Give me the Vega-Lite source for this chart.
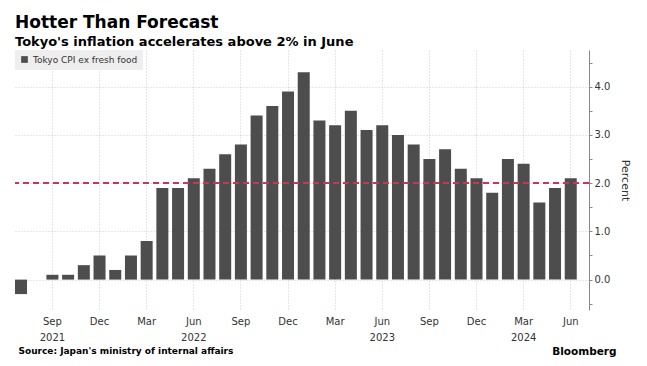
{
  "$schema": "https://vega.github.io/schema/vega-lite/v6.json",
  "width": 574,
  "height": 260,
  "autosize": {"type": "none"},
  "padding": {"left": 15, "top": 50, "right": 58, "bottom": 56},
  "background": "white",
  "title": {
    "text": "Hotter Than Forecast",
    "subtitle": "Tokyo's inflation accelerates above 2% in June",
    "anchor": "start",
    "frame": "group",
    "font": "DejaVu Sans",
    "fontSize": 17,
    "fontWeight": "bold",
    "color": "#000000",
    "subtitleFont": "DejaVu Sans",
    "subtitleFontSize": 13,
    "subtitleFontWeight": "bold",
    "subtitleColor": "#000000",
    "subtitlePadding": 4,
    "offset": 0
  },
  "data": {
    "values": [
      {"month": "2021-07", "value": -0.3},
      {"month": "2021-08", "value": 0.0},
      {"month": "2021-09", "value": 0.1},
      {"month": "2021-10", "value": 0.1},
      {"month": "2021-11", "value": 0.3},
      {"month": "2021-12", "value": 0.5},
      {"month": "2022-01", "value": 0.2},
      {"month": "2022-02", "value": 0.5},
      {"month": "2022-03", "value": 0.8},
      {"month": "2022-04", "value": 1.9},
      {"month": "2022-05", "value": 1.9},
      {"month": "2022-06", "value": 2.1},
      {"month": "2022-07", "value": 2.3},
      {"month": "2022-08", "value": 2.6},
      {"month": "2022-09", "value": 2.8},
      {"month": "2022-10", "value": 3.4},
      {"month": "2022-11", "value": 3.6},
      {"month": "2022-12", "value": 3.9},
      {"month": "2023-01", "value": 4.3},
      {"month": "2023-02", "value": 3.3},
      {"month": "2023-03", "value": 3.2},
      {"month": "2023-04", "value": 3.5},
      {"month": "2023-05", "value": 3.1},
      {"month": "2023-06", "value": 3.2},
      {"month": "2023-07", "value": 3.0},
      {"month": "2023-08", "value": 2.8},
      {"month": "2023-09", "value": 2.5},
      {"month": "2023-10", "value": 2.7},
      {"month": "2023-11", "value": 2.3},
      {"month": "2023-12", "value": 2.1},
      {"month": "2024-01", "value": 1.8},
      {"month": "2024-02", "value": 2.5},
      {"month": "2024-03", "value": 2.4},
      {"month": "2024-04", "value": 1.6},
      {"month": "2024-05", "value": 1.9},
      {"month": "2024-06", "value": 2.1}
    ]
  },
  "layer": [
    {
      "mark": {"type": "bar"},
      "encoding": {
        "x": {
          "field": "month",
          "type": "ordinal",
          "scale": {"paddingInner": 0.236, "paddingOuter": 0.39, "align": 0},
          "axis": {
            "values": ["2021-09", "2021-12", "2022-03", "2022-06", "2022-09", "2022-12", "2023-03", "2023-06", "2023-09", "2023-12", "2024-03", "2024-06"],
            "labelExpr": "[slice(datum.value,5)=='09' ? 'Sep' : slice(datum.value,5)=='12' ? 'Dec' : slice(datum.value,5)=='03' ? 'Mar' : 'Jun', indexof(['2021-09','2022-06','2023-06','2024-03'], datum.value) >= 0 ? slice(datum.value,0,4) : '']",
            "domain": false,
            "ticks": false,
            "grid": true,
            "gridColor": "#cccccc",
            "gridDash": [1, 2],
            "labelFont": "DejaVu Sans",
            "labelFontSize": 10,
            "labelColor": "#333333",
            "labelPadding": 6,
            "labelLineHeight": 16,
            "labelAngle": 0,
            "title": "Source: Japan's ministry of internal affairs",
            "titleFont": "DejaVu Sans",
            "titleFontSize": 9,
            "titleFontWeight": "bold",
            "titleColor": "#000000",
            "titleAnchor": "start",
            "titleAlign": "left",
            "titleBaseline": "alphabetic",
            "titleX": 3,
            "titleY": 43
          }
        },
        "y": {
          "field": "value",
          "type": "quantitative",
          "scale": {"domain": [-0.63, 4.76], "nice": false, "zero": false},
          "axis": {
            "orient": "right",
            "values": [-0.5, 0, 0.5, 1, 1.5, 2, 2.5, 3, 3.5, 4, 4.5],
            "tickCount": 30,
            "labelExpr": "abs(datum.value - round(datum.value)) < 0.01 ? format(datum.value, '.1f') : ''",
            "labelOverlap": false,
            "grid": true,
            "gridColor": "#cccccc",
            "gridDash": [1, 2],
            "gridOpacity": {"condition": {"test": "abs(datum.value - round(datum.value)) < 0.01", "value": 1}, "value": 0},
            "domainColor": "#888888",
            "tickColor": "#888888",
            "tickSize": 3,
            "labelPadding": 2,
            "labelFont": "DejaVu Sans",
            "labelFontSize": 10,
            "labelColor": "#333333",
            "title": "Percent",
            "titleFont": "DejaVu Sans",
            "titleFontSize": 11,
            "titleFontWeight": "normal",
            "titleColor": "#333333",
            "titlePadding": 10
          }
        },
        "color": {
          "datum": "Tokyo CPI ex fresh food",
          "type": "nominal",
          "scale": {"range": ["#4d4d4d"]},
          "legend": {
            "orient": "none",
            "legendX": 0,
            "legendY": 0,
            "title": null,
            "fillColor": "#eeeeee",
            "padding": 5,
            "symbolType": "square",
            "symbolSize": 45,
            "symbolStrokeWidth": 0,
            "labelFont": "DejaVu Sans",
            "labelFontSize": 9,
            "labelColor": "#333333"
          }
        }
      }
    },
    {
      "mark": {"type": "rule", "color": "#c9365a", "strokeDash": [6, 4], "strokeWidth": 1.2},
      "encoding": {"y": {"datum": 2}}
    },
    {
      "mark": {"type": "bar", "opacity": 0},
      "encoding": {
        "x": {
          "field": "month",
          "type": "ordinal",
          "axis": {
            "orient": "top",
            "labels": false,
            "ticks": false,
            "domain": false,
            "grid": false,
            "title": "Bloomberg",
            "titleFont": "DejaVu Sans",
            "titleFontSize": 10.5,
            "titleFontWeight": "bold",
            "titleColor": "#000000",
            "titleAnchor": "end",
            "titleAlign": "right",
            "titleBaseline": "alphabetic",
            "titleX": 601,
            "titleY": 304
          }
        }
      }
    }
  ],
  "resolve": {"axis": {"x": "independent"}},
  "config": {"view": {"stroke": null}}
}
